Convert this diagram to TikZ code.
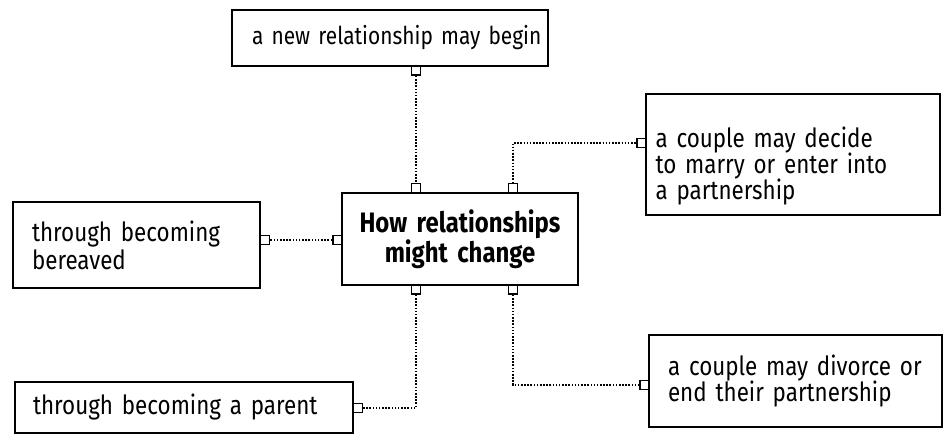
\documentclass[tikz,border=0pt]{standalone}
\usepackage{fontspec}
\setmainfont{Fira Sans}[FakeStretch=0.85]
\usetikzlibrary{positioning}

\tikzset{
  box/.style={draw, line width=1.1pt, inner sep=0pt, align=left, font=\fontsize{15}{15}\selectfont},
  port/.style={draw, fill=white, line width=0.8pt, minimum size=0.17cm, inner sep=0pt},
  link/.style={line width=1.1pt, dash pattern=on 0.9pt off 0.9pt}
}

\begin{document}
\begin{tikzpicture}[x=0.02cm, y=-0.02cm]
  \useasboundingbox (0,0) rectangle (943,435);

  % boxes
  \node[box, minimum width=6.32cm, minimum height=1.12cm, text width=5.52cm, font=\fontsize{14}{15}\selectfont] (new) at (390,38) {\mbox{a new relationship may begin}};
  \node[box, minimum width=4.72cm, minimum height=1.84cm, text width=4.72cm, align=center, font=\fontsize{16}{17}\selectfont\bfseries] (change) at (460,239) {How relationships\\might change};
  \node[box, minimum width=5.88cm, minimum height=2.42cm, text width=5.5cm, text depth=20pt] (marry) at (793,154.5) {a couple may decide\\to marry or enter into\\a partnership};
  \node[box, minimum width=4.94cm, minimum height=1.72cm, text width=4.18cm, font=\fontsize{15}{16}\selectfont] (bereaved) at (136.5,245) {through becoming\\bereaved};
  \node[box, minimum width=6.76cm, minimum height=1.02cm, text width=6.04cm] (parent) at (184,407.5) {\mbox{through becoming a parent}};
  \node[box, minimum width=5.86cm, minimum height=1.84cm, text width=5.1cm] (divorce) at (795.5,381) {\mbox{a couple may divorce or}\\end their partnership};

  % ports
  \node[port, anchor=north] (newS) at (416,66) {};
  \node[port, anchor=south] (changeNL) at (416,193) {};
  \node[port, anchor=south] (changeNR) at (513,193) {};
  \node[port, anchor=north] (changeSL) at (416,285) {};
  \node[port, anchor=north] (changeSR) at (513,285) {};
  \node[port, anchor=east] (changeW) at (342,240) {};
  \node[port, anchor=west] (bereavedE) at (260,240) {};
  \node[port, anchor=east] (marryW) at (646,143) {};
  \node[port, anchor=west] (parentE) at (353,408) {};
  \node[port, anchor=east] (divorceW) at (649,385) {};

  % connectors
  \draw[link] (newS.south) -- (changeNL.north);
  \draw[link] (changeNR.north) |- (marryW.west);
  \draw[link] (changeW.west) -- (bereavedE.east);
  \draw[link] (changeSL.south) |- (parentE.east);
  \draw[link] (changeSR.south) |- (divorceW.west);
\end{tikzpicture}
\end{document}
